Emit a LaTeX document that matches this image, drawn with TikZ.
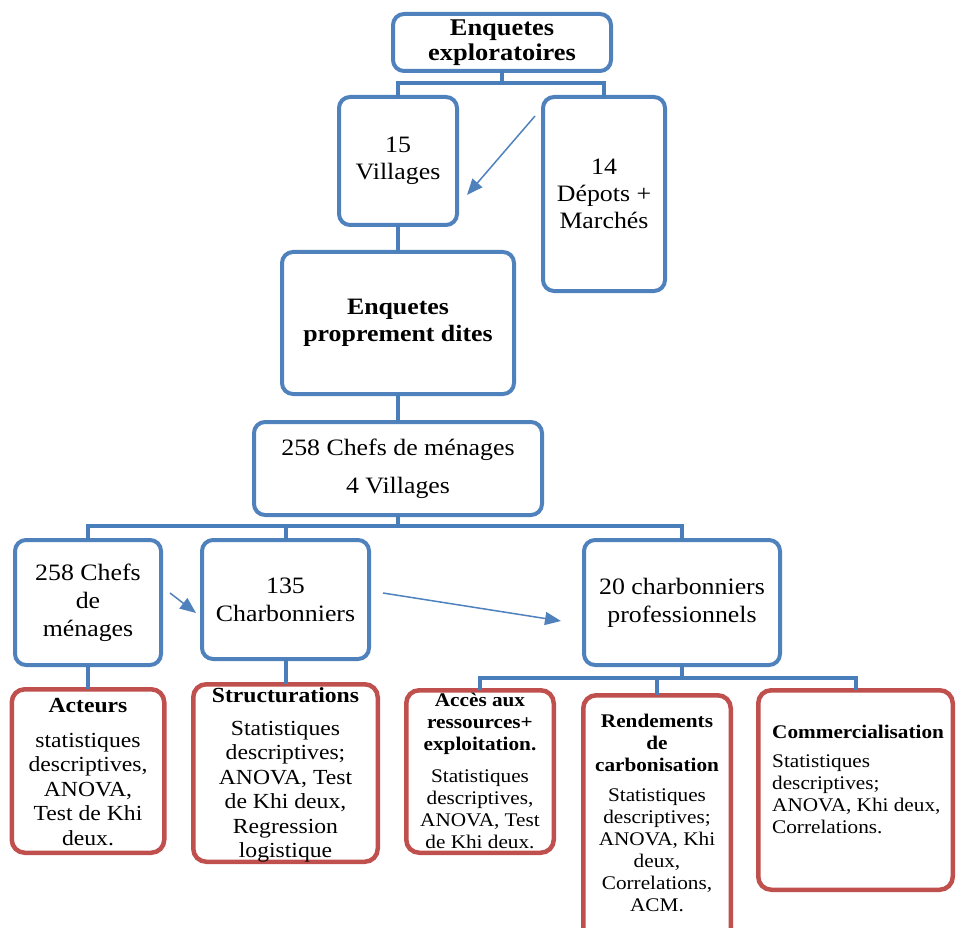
\documentclass[tikz,border=0pt]{standalone}
\usepackage{fontspec}
\setmainfont[FakeStretch=1.1]{Liberation Serif}
\usetikzlibrary{arrows.meta}
\definecolor{bbox}{HTML}{4F81BD}
\definecolor{rbox}{HTML}{C0504D}
\definecolor{connc}{HTML}{4A7EBB}
\begin{document}
\begin{tikzpicture}[x=1pt,y=-1pt,
  bluebox/.style={draw=bbox, line width=4pt, rounded corners=11pt, fill=white, inner sep=0pt, outer sep=0pt, align=center, font=\fontsize{23.5}{27}\selectfont},
  redbox/.style={draw=rbox, line width=4.5pt, rounded corners=13pt, fill=white, inner sep=0pt, outer sep=0pt},
  bigtxt/.style={inner sep=0pt, align=center, font=\fontsize{21.5}{24.5}\selectfont},
  smalltxt/.style={inner sep=0pt, align=center, font=\fontsize{19.3}{22}\selectfont},
  conline/.style={draw=connc, line width=4pt},
  arr/.style={draw=bbox, line width=1.5pt, -{Triangle[length=16pt,width=13pt]}}]
\useasboundingbox (0,0) rectangle (956,928);
\clip (0,0) rectangle (956,928);
% blue boxes
\node[bluebox, minimum width=218pt, minimum height=57pt, font=\fontsize{24}{25.5}\selectfont\bfseries] (ee) at (502,42.5) {Enquetes\\exploratoires};
\node[bluebox, minimum width=118pt, minimum height=128pt] (v15) at (398,161) {15\\Villages};
\node[bluebox, minimum width=122pt, minimum height=194pt] (dep) at (604,194) {14\\Dépots +\\Marchés};
\node[bluebox, minimum width=232pt, minimum height=142pt, font=\fontsize{23.5}{27}\selectfont\bfseries] (epd) at (398,323) {Enquetes\\proprement dites};
\node[bluebox, minimum width=288pt, minimum height=93pt] (c258) at (398,468.5) {258 Chefs de ménages\\[11pt]4 Villages};
\node[bluebox, minimum width=146pt, minimum height=125pt, font=\fontsize{23.5}{28}\selectfont] (cm) at (88,602.5) {258 Chefs\\de\\ménages};
\node[bluebox, minimum width=167pt, minimum height=119pt, font=\fontsize{23.5}{28}\selectfont] (ch135) at (285.5,599.5) {135\\Charbonniers};
\node[bluebox, minimum width=196pt, minimum height=125pt, font=\fontsize{23.5}{28}\selectfont] (ch20) at (682,602.5) {20 charbonniers\\professionnels};
% red boxes
\node[redbox, minimum width=152.5pt, minimum height=163.5pt] (act) at (88,771) {};
\node[redbox, minimum width=184.5pt, minimum height=177.5pt] (str) at (285.5,773) {};
\node[redbox, minimum width=147.5pt, minimum height=162.5pt] (acc) at (480,771.5) {};
\node[redbox, minimum width=147.5pt, minimum height=247.5pt] (ren) at (657,819) {};
\node[redbox, minimum width=194.5pt, minimum height=199.5pt] (com) at (855.5,790) {};
% red box texts
\node[bigtxt, anchor=north] (actT) at (88,698) {\textbf{Acteurs}\\[10.5pt]statistiques\\descriptives,\\ANOVA,\\Test de Khi\\deux.};
\node[bigtxt, anchor=north] (strT) at (285.5,687) {\textbf{Structurations}\\[8.5pt]Statistiques\\descriptives;\\ANOVA, Test\\de Khi deux,\\Regression\\logistique};
\node[smalltxt, anchor=north] (accT) at (480,693) {\textbf{Accès aux}\\\textbf{ressources+}\\\textbf{exploitation.}\\[10pt]Statistiques\\descriptives,\\ANOVA, Test\\de Khi deux.};
\node[smalltxt, anchor=north] (renT) at (657,713.5) {\textbf{Rendements}\\\textbf{de}\\\textbf{carbonisation}\\[8pt]Statistiques\\descriptives;\\ANOVA, Khi\\deux,\\Correlations,\\ACM.};
\node[smalltxt, align=left, anchor=north west] (comT) at (772,724.5) {\textbf{Commercialisation}\\[7pt]Statistiques\\descriptives;\\ANOVA, Khi deux,\\Correlations.};
% tree connectors
\draw[conline] (ee.south) -- ++(0,12) coordinate (b0);
\draw[conline] (v15.north) |- (b0) -| (dep.north);
\draw[conline] (v15.south) -- (epd.north);
\draw[conline] (epd.south) -- (c258.north);
\draw[conline] (c258.south) -- ++(0,11) coordinate (b1);
\draw[conline] (cm.north) |- (b1) -| (ch20.north);
\draw[conline] (ch135.north) -- (ch135.north |- b1);
\draw[conline] (cm.south) -- (act.north);
\draw[conline] (ch135.south) -- (str.north);
\draw[conline] (ch20.south) -- ++(0,13) coordinate (b2);
\draw[conline] (acc.north) |- (b2) -| (com.north);
\draw[conline] (ren.north) -- (ren.north |- b2);
% arrows
\coordinate (a1s) at (535,116);
\coordinate (a1e) at (467,195);
\coordinate (a2s) at (170,593);
\coordinate (a2e) at (196,613);
\coordinate (a3s) at (383,593);
\coordinate (a3e) at (561,621);
\draw[arr] (a1s) -- (a1e);
\draw[arr] (a2s) -- (a2e);
\draw[arr] (a3s) -- (a3e);
\end{tikzpicture}
\end{document}
